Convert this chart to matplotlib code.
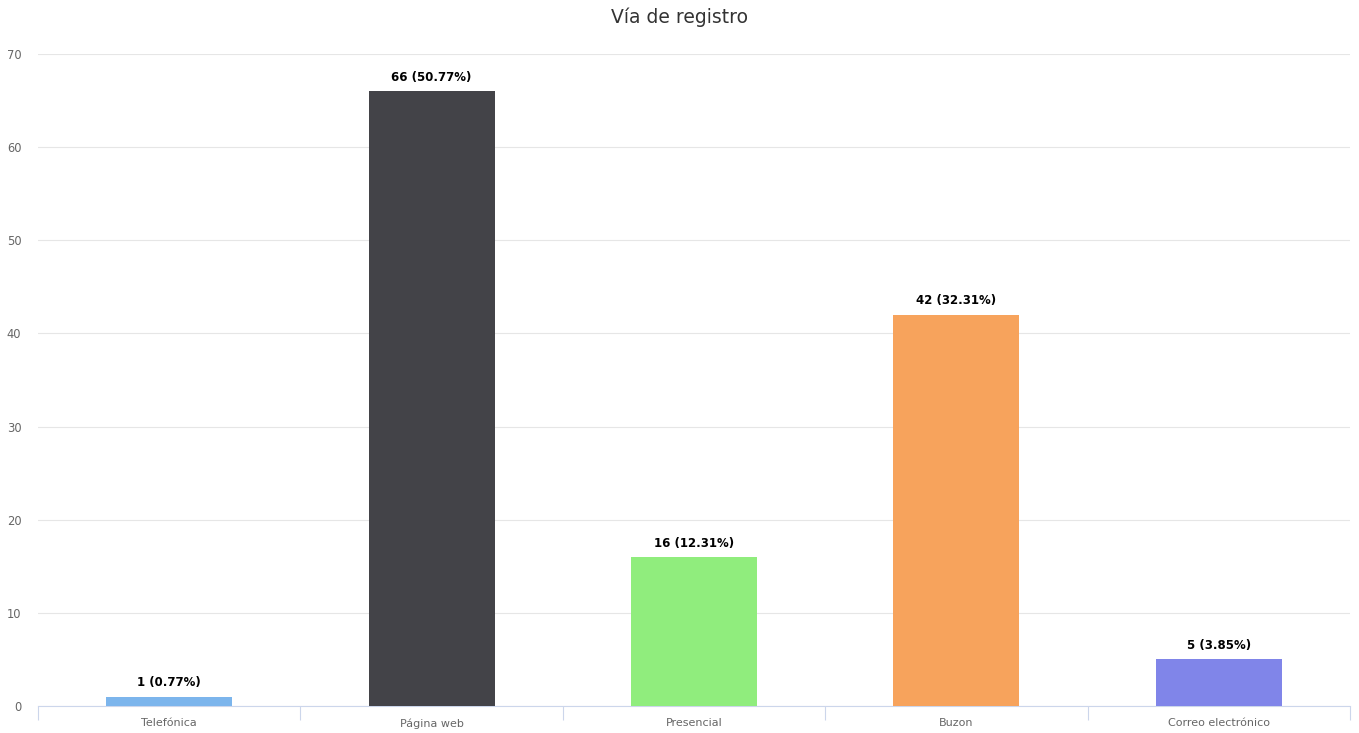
import numpy as np
import matplotlib
matplotlib.use("Agg")
import matplotlib.pyplot as plt

categories = ["Telefónica", "Página web", "Presencial", "Buzon", "Correo electrónico"]
values = [1, 66, 16, 42, 5]
percents = ["0.77", "50.77", "12.31", "32.31", "3.85"]
colors = ["#7cb5ec", "#434348", "#90ed7d", "#f7a35c", "#8085e9"]

fig = plt.figure(figsize=(13.59, 7.33), dpi=100)
ax = fig.add_axes([38 / 1359, 1 - 706 / 733, (1350 - 38) / 1359, (706 - 54) / 733])

x = np.arange(len(categories))
ax.bar(x, values, width=0.48, color=colors, zorder=3)
for xi, v, p in zip(x, values, percents):
    ax.text(xi, v + 0.8, f"{v} ({p}%)", ha="center", va="bottom",
            fontsize=8.5, fontweight="bold", color="#000000", zorder=4)

ax.set_xlim(-0.5, len(categories) - 0.5)
ax.set_ylim(0, 70)
ax.set_yticks(range(0, 71, 10))
ax.grid(axis="y", color="#e6e6e6", linewidth=0.8, zorder=0)

ax.set_xticks(x)
ax.set_xticklabels(categories, fontsize=8, color="#666666")
ax.tick_params(axis="x", length=0, pad=9)
ax.set_xticks(np.arange(-0.5, len(categories)), minor=True)
ax.tick_params(axis="x", which="minor", length=10, color="#ccd6eb", width=0.8)
ax.tick_params(axis="y", length=0, labelsize=8.3, labelcolor="#666666", pad=12)

for side in ["top", "right", "left"]:
    ax.spines[side].set_visible(False)
ax.spines["bottom"].set_color("#ccd6eb")
ax.spines["bottom"].set_linewidth(0.8)

fig.text(0.5, 1 - 17 / 733, "Vía de registro", ha="center", va="center",
         fontsize=13.5, color="#333333")

fig.savefig("out.png", dpi=100, facecolor="white")
